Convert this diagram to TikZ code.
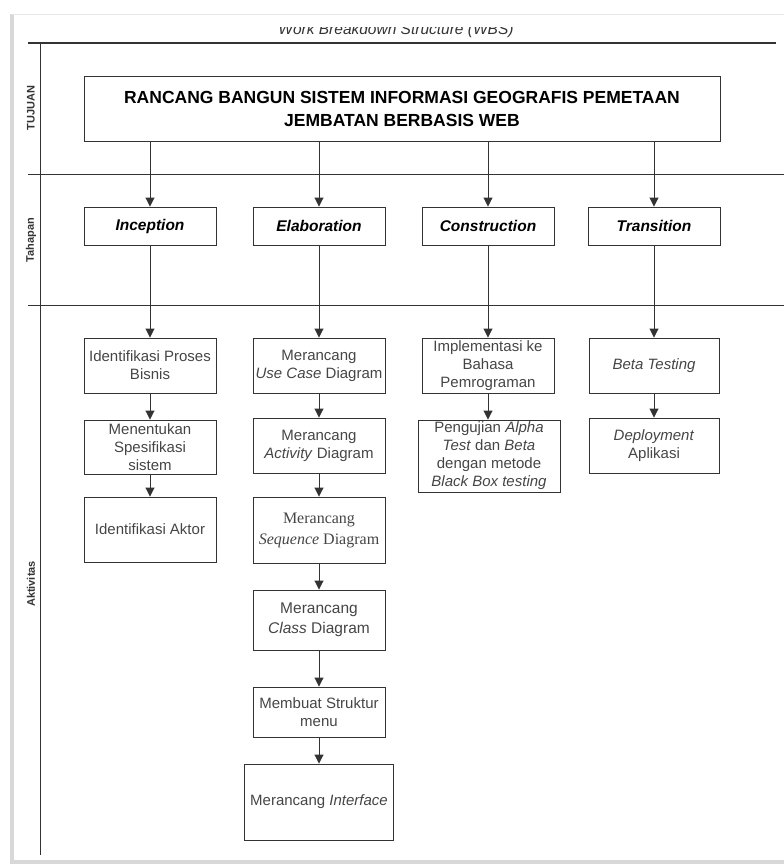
\documentclass[tikz,border=0pt]{standalone}
\usepackage{fontspec}
\setmainfont{Liberation Sans}
\newfontfamily\seriffont{Liberation Serif}
\usetikzlibrary{arrows.meta}
\definecolor{boxline}{HTML}{333333}
\definecolor{txt}{HTML}{454545}
\definecolor{pageshade}{HTML}{D8D8D8}
\begin{document}
\begin{tikzpicture}[
        x = 1pt, y = -1pt,
        >= {Triangle[length=9pt,width=9pt]},
        line width = 0.9pt,
        wbs-box/.style = {draw=boxline, rectangle, text=txt, align=center, inner sep=1pt,
          font=\fontsize{15}{18}\selectfont},
        act/.style = {wbs-box, minimum width=132pt, minimum height=55pt},
        phase/.style = {wbs-box, minimum width=132pt, minimum height=38pt,
          font=\fontsize{15.5}{18}\selectfont\bfseries\itshape, text=black},
        lane/.style = {rotate=90, font=\fontsize{11}{12}\selectfont\bfseries, text=boxline}
      ]
        \useasboundingbox (0,0) rectangle (784,868);
        % page frame
        \draw[pageshade, line width=4pt] (12,14) -- (12,862) -- (784,862);
        \draw[pageshade!60, line width=1pt] (12,14) -- (784,14);

        % swimlanes
        \begin{scope}
          \clip (0,27) rectangle (784,43);
          \node[font=\fontsize{15.5}{16}\selectfont\itshape, text=boxline] (wbs) at (396,30) {Work Breakdown Structure (WBS)};
        \end{scope}
        \draw[boxline, line width=1.2pt] (28,43) -- (776,43);
        \draw[boxline] (40,43) -- (40,855);
        \draw[boxline] (28,174) -- (784,174);
        \draw[boxline] (28,305) -- (784,305);
        \node[lane] (tujuan) at (31,108) {TUJUAN};
        \node[lane] (tahapan) at (31,240) {Tahapan};
        \node[lane] (aktivitas) at (31,584) {Aktivitas};

        % tujuan
        \node[wbs-box, minimum width=636pt, minimum height=65pt, text=black,
          font=\fontsize{17.5}{23}\selectfont\bfseries] (goal) at (402,108.5)
          {RANCANG BANGUN SISTEM INFORMASI GEOGRAFIS PEMETAAN\\JEMBATAN BERBASIS WEB};

        % tahapan
        \node[phase] (inc) at (150,226) {Inception};
        \node[phase] (ela) at (319,226) {Elaboration};
        \node[phase] (con) at (488,226) {Construction};
        \node[phase] (tra) at (654,226) {Transition};

        % aktivitas
        \node[act] (inc1) at (150,365.5) {Identifikasi Proses\\Bisnis};
        \node[act, minimum height=54pt] (inc2) at (150,447) {Menentukan\\Spesifikasi\\sistem};
        \node[act, minimum height=65pt] (inc3) at (150,529.5) {Identifikasi Aktor};

        \node[act] (ela1) at (319,365.5) {Merancang\\\textit{Use Case} Diagram};
        \node[act] (ela2) at (319,445.5) {Merancang\\\textit{Activity} Diagram};
        \node[act, minimum height=66pt, font=\seriffont\fontsize{16}{21}\selectfont] (ela3) at (319,530) {Merancang\\\textit{Sequence} Diagram};
        \node[act, minimum height=60pt, font=\fontsize{15.5}{20}\selectfont] (ela4) at (319,620) {Merancang\\\textit{Class} Diagram};
        \node[act, minimum height=50pt] (ela5) at (319,712) {Membuat Struktur\\menu};
        \node[act, minimum width=149pt, minimum height=76pt] (ela6) at (319,802) {Merancang \textit{Interface}};

        \node[act] (con1) at (488,365.5) {Implementasi ke\\Bahasa\\Pemrograman};
        \node[act, minimum width=142pt, minimum height=72pt] (con2) at (489,456) {Pengujian \textit{Alpha}\\\textit{Test} dan \textit{Beta}\\dengan metode\\\textit{Black Box testing}};

        \node[act, minimum width=130pt] (tra1) at (654,365.5) {\textit{Beta Testing}};
        \node[act, minimum width=130pt] (tra2) at (654,445.5) {\textit{Deployment}\\Aplikasi};

        % arrows
        \draw[->, boxline] (goal.south -| inc.north) -- (inc.north);
        \draw[->, boxline] (goal.south -| ela.north) -- (ela.north);
        \draw[->, boxline] (goal.south -| con.north) -- (con.north);
        \draw[->, boxline] (goal.south -| tra.north) -- (tra.north);

        \draw[->, boxline] (inc) -- (inc1);
        \draw[->, boxline] (inc1) -- (inc2);
        \draw[->, boxline] (inc2) -- (inc3);

        \draw[->, boxline] (ela) -- (ela1);
        \draw[->, boxline] (ela1) -- (ela2);
        \draw[->, boxline] (ela2) -- (ela3);
        \draw[->, boxline] (ela3) -- (ela4);
        \draw[->, boxline] (ela4) -- (ela5);
        \draw[->, boxline] (ela5) -- (ela6);

        \draw[->, boxline] (con) -- (con1);
        \draw[->, boxline] (con1.south) -- (con1.south |- con2.north);

        \draw[->, boxline] (tra) -- (tra1);
        \draw[->, boxline] (tra1) -- (tra2);
      \end{tikzpicture}
\end{document}
